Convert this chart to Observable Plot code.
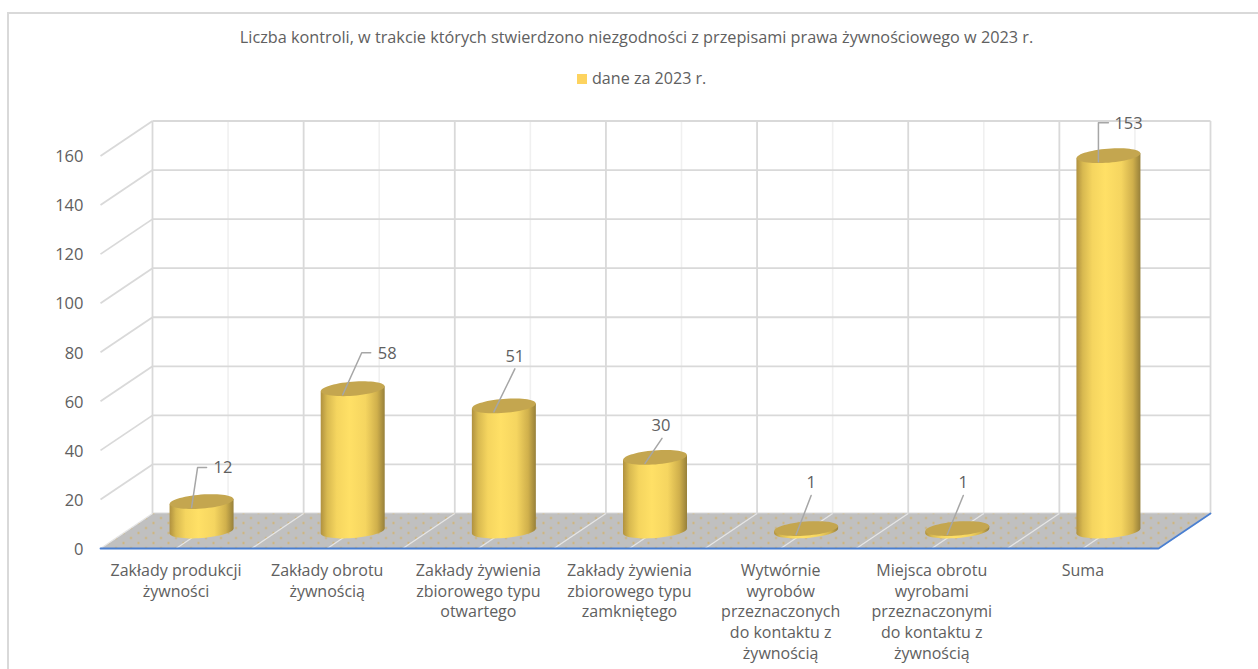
<!DOCTYPE html>
<html lang="pl">
<head>
<meta charset="utf-8">
<script src="https://cdn.jsdelivr.net/npm/d3@7"></script>
<script src="https://cdn.jsdelivr.net/npm/@observablehq/plot@0.6"></script>
<style>
  html, body { margin: 0; background: #fff; }
  body { width: 1258px; height: 669px; overflow: hidden; position: relative; font-family: "Open Sans", sans-serif; color: #606060; }
  #frame { position: absolute; left: 7px; top: 12px; width: 1251px; height: 670px; border-left: 2px solid #d9d9d9; border-top: 2px solid #d9d9d9; box-sizing: border-box; }
  #head { position: relative; height: 100px; }
  #title { position: absolute; left: 0; width: 1273px; top: 27px; text-align: center; font-size: 16.25px; line-height: 20px; white-space: nowrap; }
  #legend { position: absolute; left: 577px; top: 68px; font-size: 16.1px; line-height: 20px; white-space: nowrap; }
  #legend i { display: inline-block; width: 10px; height: 10px; background: #fdd35f; margin-right: 5px; }
  svg.plot, svg { display: block; max-width: none; }
</style>
</head>
<body>
<div id="frame"></div>
<div id="head">
  <div id="title"></div>
  <div id="legend"><i></i><span></span></div>
</div>
<div id="chart"></div>
<script>
const titleText = "Liczba kontroli, w trakcie których stwierdzono niezgodności z przepisami prawa żywnościowego w 2023 r.";
const seriesName = "dane za 2023 r.";
const categories = [
  "Zakłady produkcji\nżywności",
  "Zakłady obrotu\nżywnością",
  "Zakłady żywienia\nzbiorowego typu\notwartego",
  "Zakłady żywienia\nzbiorowego typu\nzamkniętego",
  "Wytwórnie\nwyrobów\nprzeznaczonych\ndo kontaktu z\nżywnością",
  "Miejsca obrotu\nwyrobami\nprzeznaczonymi\ndo kontaktu z\nżywnością",
  "Suma"
];
const values = [12, 58, 51, 30, 1, 1, 153];
const yTicks = [0, 20, 40, 60, 80, 100, 120, 140, 160];

// Layout (pixels), kept apart from the data.
const plotW = 1258, plotH = 569;
const left = 100, right = 1158, base = 448, top160 = 55.5;
const pxX = categories.length / (right - left);
const pxY = 160 / (base - top160);
const depthX = 52 * pxX, depthY = 35 * pxY;
const halfCol = 32 * pxX, tilt = 2.5 * pxY;
// leader bends relative to the column's leader start, and label position and anchor
const leaderLayout = [
  {bend: [[6, -40], [15, -40]], label: [22, -40], anchor: "start"},
  {bend: [[19, -42], [28, -42]], label: [35, -41], anchor: "start"},
  {bend: [[21, -43]], label: [21, -55], anchor: "middle"},
  {bend: [[17, -25]], label: [16, -38], anchor: "middle"},
  {bend: [[15, -39]], label: [15, -52], anchor: "middle"},
  {bend: [[16, -39]], label: [16, -52], anchor: "middle"},
  {bend: [[0, -39], [10, -39]], label: [16, -37.5], anchor: "start"}
];

document.getElementById("title").textContent = titleText;
document.querySelector("#legend span").textContent = seriesName;

const n = categories.length;
const cols = values.map((v, i) => ({
  i, value: v,
  cx: i + 0.5 + depthX / 2 - 0.5 * pxX,
  bottom: depthY / 2,
  top: v + depthY / 2
}));
const bodyPts = cols.flatMap(c => [
  {i: c.i, x: c.cx - halfCol, y: c.bottom - tilt},
  {i: c.i, x: c.cx - halfCol, y: c.top - tilt},
  {i: c.i, x: c.cx + halfCol, y: c.top + tilt},
  {i: c.i, x: c.cx + halfCol, y: c.bottom + tilt}
]);
const ellipse = {
  draw(ctx) {
    const rx = 32, ry = 7, a = -4.5 * Math.PI / 180, steps = 60;
    for (let k = 0; k <= steps; k++) {
      const t = 2 * Math.PI * k / steps;
      const ex = rx * Math.cos(t), ey = ry * Math.sin(t);
      const px = ex * Math.cos(a) - ey * Math.sin(a);
      const py = ex * Math.sin(a) + ey * Math.cos(a);
      k ? ctx.lineTo(px, py) : ctx.moveTo(px, py);
    }
    ctx.closePath();
  }
};
const leaderStart = c => ({x: c.cx - 10 * pxX, y: c.top - 6 * pxY});
const leaderPts = cols.flatMap(c => {
  const s = leaderStart(c);
  return [{i: c.i, x: s.x, y: s.y}, ...leaderLayout[c.i].bend.map(([dx, dy]) => ({i: c.i, x: s.x + dx * pxX, y: s.y - dy * pxY}))];
});
const labelRows = cols.map(c => {
  const s = leaderStart(c), [dx, dy] = leaderLayout[c.i].label;
  return {x: s.x + dx * pxX, y: s.y - dy * pxY, text: String(c.value), anchor: leaderLayout[c.i].anchor};
});
const floor = [
  {x: 0, y: 0}, {x: n, y: 0}, {x: n + depthX, y: depthY}, {x: depthX, y: depthY}
];
const boundaries = d3.range(0, n + 1);
const centres = d3.range(0, n).map(i => i + 0.5);
const halves = d3.range(0, 2 * n + 1).map(k => k / 2);
const innerTicks = yTicks.filter(t => t > 0);
const heavy = {stroke: "#d9d9d9", strokeWidth: 1.8};
const ink = "#606060";

const chart = Plot.plot({
  width: plotW, height: plotH,
  marginLeft: left, marginRight: plotW - right, marginTop: 0, marginBottom: 0,
  x: {domain: [0, n], range: [left, right], axis: null},
  y: {domain: [0, 160], range: [base, top160], axis: null},
  style: {fontFamily: '"Open Sans", sans-serif', fontSize: "16px", color: ink, overflow: "visible", background: "transparent"},
  marks: [
    Plot.link(centres, {x1: d => d + depthX, x2: d => d + depthX, y1: depthY, y2: 160 + depthY, stroke: "#f0f0f0", strokeWidth: 1.6}),
    Plot.link(boundaries, {x1: d => d + depthX, x2: d => d + depthX, y1: depthY, y2: 160 + depthY, ...heavy}),
    Plot.link(yTicks, {x1: depthX, x2: n + depthX, y1: d => d + depthY, y2: d => d + depthY, ...heavy}),
    Plot.link(innerTicks, {x1: 0, x2: depthX, y1: d => d, y2: d => d + depthY, ...heavy}),
    Plot.line(floor, {x: "x", y: "y", fill: "url(#floorDots)", stroke: "none"}),
    Plot.link(halves, {x1: d => d, x2: d => d + depthX, y1: 0, y2: depthY, stroke: "#e6e6e6", strokeWidth: 1.3}),
    Plot.line([{x: 0, y: 0}, {x: n, y: 0}, {x: n + depthX, y: depthY}], {x: "x", y: "y", stroke: "#4a7fd0", strokeWidth: 1.8}),
    Plot.dot(cols, {x: "cx", y: "bottom", r: 32, symbol: ellipse, fill: "url(#cyl)", stroke: "none"}),
    Plot.line(bodyPts, {x: "x", y: "y", z: "i", fill: "url(#cyl)", stroke: "none"}),
    Plot.dot(cols, {x: "cx", y: "top", r: 32, symbol: ellipse, fill: "#c4a64f", stroke: "none"}),
    Plot.line(leaderPts, {x: "x", y: "y", z: "i", stroke: "#a6a6a6", strokeWidth: 1.5}),
    Plot.text(labelRows.filter(d => d.anchor === "start"), {x: "x", y: "y", text: "text", textAnchor: "start", fill: ink, fontSize: 16.5}),
    Plot.text(labelRows.filter(d => d.anchor === "middle"), {x: "x", y: "y", text: "text", textAnchor: "middle", fill: ink, fontSize: 16.5}),
    Plot.axisY(yTicks, {anchor: "left", tickSize: 0, tickPadding: 17, label: null, fill: ink, fontSize: 16.5, dy: 1}),
    Plot.text(categories, {x: (d, i) => i + 0.5, y: () => 0, text: d => d, lineAnchor: "top", lineHeight: 1.29, dy: 13, fill: ink, fontSize: 16})
  ]
});
d3.select(chart).append("defs").html(`
  <linearGradient id="cyl" x1="0" x2="1" y1="0" y2="0">
    <stop offset="0" stop-color="#b0913f"/>
    <stop offset="0.1" stop-color="#d8b950"/>
    <stop offset="0.25" stop-color="#f5d55f"/>
    <stop offset="0.45" stop-color="#ffe066"/>
    <stop offset="0.7" stop-color="#f5d560"/>
    <stop offset="0.88" stop-color="#d0b04c"/>
    <stop offset="1" stop-color="#97803a"/>
  </linearGradient>
  <pattern id="floorDots" patternUnits="userSpaceOnUse" width="15" height="10">
    <rect width="15" height="10" fill="#c0c0c0"/>
    <circle cx="3" cy="2.5" r="0.9" fill="#d9ae4e"/>
    <circle cx="10.5" cy="7.5" r="0.9" fill="#d9ae4e"/>
  </pattern>`);
document.getElementById("chart").appendChild(chart);
</script>
</body>
</html>
